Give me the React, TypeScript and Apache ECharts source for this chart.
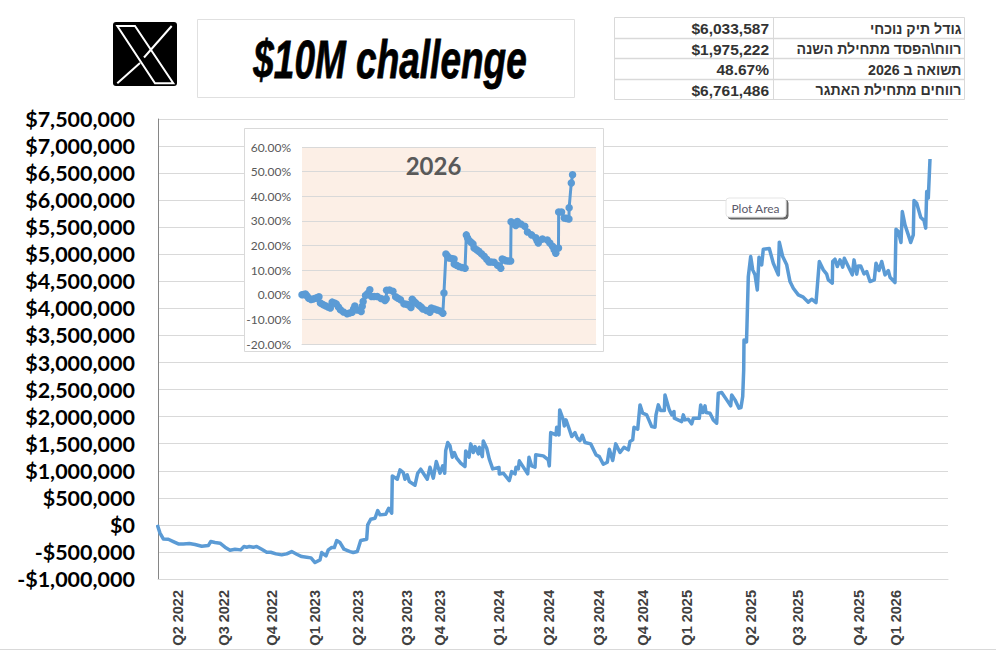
import React, { useEffect, useRef } from "react";
import * as echarts from "echarts";

// Main chart: [session position along the axis, account P&L in $ thousands]
const equity2022: number[][] = [[-0.7,0],[2,-153],[5.3,-259],[10.3,-265],[15.3,-308],[20.3,-351],[25.3,-351],[31.3,-345],[37,-363],[43.7,-394],[50.3,-382],[52.7,-308],[57,-326],[62,-339],[67,-412],[72,-468],[77,-450],[82.7,-462],[86,-400],[88.7,-412],[91.3,-400],[95.3,-412],[98.7,-400],[103.7,-450],[108.7,-505],[112.7,-505],[118,-536],[123.7,-554],[128.7,-536],[133.7,-493],[138.7,-542],[143.7,-585],[148.7,-597],[153,-610]];
const equity2023: number[][] = [[157,-696],[162,-647],[163.7,-511],[168,-573],[170.3,-462],[173.7,-419],[176.3,-419],[178.7,-290],[182,-326],[186,-450],[192,-493],[195.3,-511],[199.3,-493],[202.7,-290],[208.7,-265],[209.7,0],[212.7,105],[217,123],[219.7,264],[222,185],[227.7,197],[230.7,308],[233.7,216],[234.3,905],[239.3,844],[242,1016],[245.3,967],[247,844],[249.3,924],[251.3,800],[257,733],[259.7,955],[262.7,1029],[269.3,844],[272,1066],[275.3,863],[278.3,1170],[282,955],[284.7,1090],[286.7,955],[287.7,1373],[289.7,1521],[292,1460],[294.3,1251],[296.3,1337],[298.7,1232],[302.7,1140],[307,1078],[307.7,1367],[311,1251],[312.7,1497],[315.3,1337],[317,1447],[320.3,1312],[321.3,1435],[324.3,1262],[325.3,1552],[328.7,1417],[331.3,1214],[334.7,1035]];
const equity2024: number[][] = [[341,1059],[341.3,942],[345.3,955],[351.3,819],[353.7,985],[357,942],[358,1066],[360.3,1035],[361.3,1183],[366,1048],[369.7,942],[371,1251],[373.7,1090],[377,1066],[377.7,1294],[385.3,1275],[390.3,1201],[391.3,1090],[392.7,1706],[398,1663],[398.7,1805],[401,1663],[401.7,2125],[405.3,1940],[406.3,1829],[408,1940],[411.3,1767],[413.7,1632],[417,1706],[419.3,1602],[422,1558],[424.3,1657],[427,1521],[432.7,1497],[438,1294],[441.3,1262],[445.3,1121],[449.3,1158],[451.3,1399],[454.7,1189],[457.7,1497],[462,1337],[466,1435],[470.3,1386],[472,1539],[474.7,1571],[476,1805],[479.7,1767],[482,2217],[484.7,2064],[488.7,2033],[493.7,1816],[497,1805],[498,2033],[500.3,2217],[502.7,2112],[506.3,2112],[507,2402],[511.3,2125],[513.7,2033],[516,2094],[516.3,1971],[523.7,1909],[525.3,2033],[527,1940],[530.3,1952]];
const equity2025: number[][] = [[533.7,1866],[535.3,1971],[541.3,1971],[542.7,2217],[544.7,2075],[547,2199],[548,2075],[552,2064],[555.3,1940],[558.7,1879],[560.3,2433],[563.7,2445],[568.7,2310],[572.7,2199],[573.7,2402],[577,2310],[581,2156],[583,2168],[584.7,2371],[585.7,2864],[586,3418],[588.5,3380],[589,3700],[590.3,4588],[592.7,4958],[594.7,4712],[597,4620],[599.3,4342],[601,4946],[603.7,4805],[605.3,5094],[611.3,5106],[615.3,4835],[620.3,4620],[621.3,5224],[624.7,4958],[628.7,4805],[632,4496],[635.3,4374],[640.3,4250],[645.3,4207],[650.3,4115],[653.7,4170],[658,4108],[659.7,4496],[661.3,4866],[665.3,4712],[668.7,4633],[670.3,4527],[674.3,4466],[674.7,4866],[677,4910],[679.3,4774],[682,4897],[684.7,4762],[686.3,4928],[690.3,4774],[694.3,4620],[696,4897],[698.7,4633],[700.3,4786],[702.7,4786],[706,4639],[708.7,4682],[712,4496],[716.3,4527],[718,4835],[721,4700],[723.7,4866],[727,4620],[730.3,4700],[732,4577]];
const equity2026: number[][] = [[737,4478],[738,5464],[740.3,5421],[743,5217],[744.3,5790],[747,5544],[750.3,5359],[752.7,5217],[755.3,5359],[756,5993],[758.7,5944],[762.7,5686],[766,5624],[767.7,5483],[768.7,6159],[770.3,6037],[772,6761]];

const quarterLabels = ["Q2 2022","Q3 2022","Q4 2022","Q1 2023","Q2 2023","Q3 2023","Q4 2023","Q1 2024","Q2 2024","Q3 2024","Q4 2024","Q1 2025","Q2 2025","Q3 2025","Q4 2025","Q1 2026"];
const quarterSessions = [19.7,66,113.7,157,199.7,248.7,282,341.3,391.3,441.3,485.3,528.7,593,640,701,738];

// Inset: 2026 return by day of the year, percent
const ytdDays = [0,1,1.9,2.8,3.7,5,6.2,7.4,8.4,9.4,10.2,11.6,13,14.4,15.7,16.7,18,19,20.2,21.3,23,25,26.4,27.8,28.6,29.3,30.6,32.8,33.4,33.9,35.2,36.4,37.6,38.5,40,41.7,43.8,46,46.7,46.9,48.5,50.4,51.9,53.2,54.6,56.5,58,58.9,60.4,61.1,62,63,64.8,66,67,69,70.9,71.7,73.4,75,76.6,78.1,78.7,79.8,80.6,81.5,83,84.3,84.4,85.7,87,88.7,90.4,91.1,91.8,92.6,93.7,94.8,95.4,96.8,98.1,99.5,101,102.4,103.7,105,106.5,108.4,110.2,111,112,113,114.4,115.7,115.9,117.2,118.5,119.4,121.3,123.5,125,127.3,129.6,130.3,131,133.3,136,137.4,138.9,139.8,140.7,142.2,142.3,143.9,145.4,146.7,148,148.1,149.3,150];
const ytdReturn = [0,0.1,0.3,-0.5,-1.4,-1.9,-1.7,-1.4,-1.2,-0.8,-3.4,-4,-4.5,-5,-5.4,-3,-3.4,-3.8,-5,-6.1,-7,-7.7,-7.4,-7.1,-5.8,-4.6,-6.2,-6.8,-4.7,-2.7,-0.3,0.5,2,-0.7,-0.7,-0.7,-1.5,-2.3,-1.6,1.8,1.9,1.4,-0.8,-1.4,-2,-3.7,-3.9,-4.1,-5.2,-1.8,-2.6,-3.4,-4.3,-5,-5.8,-6.4,-7.1,-5.4,-5.8,-6.2,-6.6,-7.5,0.7,16.5,15.7,14.9,14.7,14.5,12.5,12,11.5,11.1,10.8,24.3,23,22,21.3,20.6,19,18.3,17.6,16.6,15.6,14.4,13.3,13.3,13.2,12,10.8,14.5,14.2,13.8,13.7,13.7,29.6,28.8,28.1,29.7,28.7,27.8,25.5,24.3,23.1,22,21,22.6,22.2,21,19.7,18.3,16.9,19,33.6,33.6,31.2,31,30.8,35.3,45.4,48.7];

// Summary table
const tableValues = ["$6,033,587","$1,975,222","48.67%","$6,761,486"];
const tableLabels = ["גודל תיק נוכחי","רווח\\הפסד מתחילת השנה","תשואה ב 2026","רווחים מתחילת האתגר"];

const BLUE = "#5B9BD5";
const GRID = "#D9D9D9";

export default function App() {
  const ref = useRef<HTMLDivElement>(null);
  useEffect(() => {
    const chart = echarts.init(ref.current!, null, { renderer: "svg" });
    const rowY = [17, 38, 58, 79, 99];
    const equityPoints = [...equity2022, ...equity2023, ...equity2024, ...equity2025, ...equity2026];
    const tableGraphics: any[] = [
      { type: "rect", z: 1, shape: { x: 614.5, y: 17.5, width: 350, height: 82 }, style: { fill: "#fff", stroke: GRID, lineWidth: 1 } },
      { type: "line", z: 1, shape: { x1: 773.5, y1: 17, x2: 773.5, y2: 99 }, style: { stroke: GRID, lineWidth: 1 } },
      ...rowY.slice(1, 4).map((y) => ({ type: "line", z: 1, shape: { x1: 614, y1: y + 0.5, x2: 964, y2: y + 0.5 }, style: { stroke: GRID, lineWidth: 1.5 } })),
      ...tableValues.map((t, i) => ({ type: "text", z: 2, style: { text: t, x: 769, y: (rowY[i] + rowY[i + 1]) / 2 + 1, textAlign: "right", textVerticalAlign: "middle", fill: "#333", font: 'bold 15.5px "Liberation Sans"' } })),
      ...tableLabels.map((t, i) => ({ type: "text", z: 2, style: { text: t, x: 961.5, y: (rowY[i] + rowY[i + 1]) / 2 + 1, textAlign: "right", textVerticalAlign: "middle", fill: "#333", font: 'bold 14.2px "Liberation Sans"' } })),
    ];
    chart.setOption({
      animation: false,
      backgroundColor: "#fff",
      grid: [
        { left: 158, top: 119, width: 790, height: 460, z: 0, containLabel: false },
        { left: 302, top: 147, width: 294, height: 197, z: 2, show: true, backgroundColor: "#FCEFE6", borderWidth: 0 },
      ],
      xAxis: [
        {
          type: "value", gridIndex: 0, min: 0, max: 790, z: 0,
          splitLine: { show: false },
          axisLine: { show: true, onZero: false, lineStyle: { color: GRID, width: 1 } },
          axisTick: { show: false },
          axisLabel: {
            customValues: quarterSessions, rotate: 90, margin: 11,
            color: "#404040", fontFamily: '"Liberation Sans"', fontWeight: "bold", fontSize: 14.5,
            formatter: (v: number) => quarterLabels[quarterSessions.indexOf(v)] ?? "",
          },
        },
        {
          type: "value", gridIndex: 1, min: 0, max: 163, z: 3,
          splitLine: { show: false }, axisLabel: { show: false }, axisTick: { show: false },
          axisLine: { show: true, onZero: false, lineStyle: { color: GRID } },
        },
      ],
      yAxis: [
        {
          type: "value", gridIndex: 0, min: -1000000, max: 7500000, interval: 500000, z: 0,
          axisLine: { show: true, onZero: false, lineStyle: { color: "#868686", width: 1 } },
          axisTick: { show: false },
          splitLine: { show: true, lineStyle: { color: GRID, width: 1 } },
          axisLabel: {
            margin: 23, color: "#000", fontFamily: "Lato", fontWeight: "bold", fontSize: 21.5,
            formatter: (v: number) => (v < 0 ? "-$" : "$") + Math.abs(v).toLocaleString("en-US"),
          },
        },
        {
          type: "value", gridIndex: 1, min: -20, max: 60, interval: 10, z: 3,
          axisLine: { show: false }, axisTick: { show: false },
          splitLine: { show: true, lineStyle: { color: GRID, width: 1 } },
          axisLabel: { margin: 11, color: "#595959", fontFamily: "Lato", fontSize: 12, formatter: (v: number) => v.toFixed(2) + "%" },
        },
      ],
      series: [
        {
          type: "line", xAxisIndex: 0, yAxisIndex: 0, z: 1, showSymbol: false, symbol: "none",
          lineStyle: { color: BLUE, width: 3.5, join: "round" },
          data: equityPoints.map(([s, v]) => [s, v * 1000]),
        },
        {
          type: "line", xAxisIndex: 1, yAxisIndex: 1, z: 4, symbol: "circle", symbolSize: 7.5, showSymbol: true, showAllSymbol: true,
          itemStyle: { color: BLUE }, lineStyle: { color: BLUE, width: 3 },
          data: ytdDays.map((d, i) => [d, ytdReturn[i]]),
        },
      ],
      graphic: [
        { type: "line", z: 1, shape: { x1: 0, y1: 649.5, x2: 996, y2: 649.5 }, style: { stroke: GRID, lineWidth: 1 } },
        { type: "rect", z: 1, shape: { x: 244.5, y: 128.5, width: 359, height: 223 }, style: { fill: "#fff", stroke: GRID, lineWidth: 1 } },
        { type: "text", z: 6, style: { text: "2026", x: 433.5, y: 165, textAlign: "center", textVerticalAlign: "middle", fill: "#595959", font: "bold 24px Lato" } },
        { type: "rect", z: 1, shape: { x: 197.5, y: 19.5, width: 377, height: 78 }, style: { fill: "#fff", stroke: "#E0E0E0", lineWidth: 1 } },
        { type: "text", z: 2, x: 390, y: 60, scaleX: 0.925, scaleY: 1.32, style: { text: "$10M challenge", x: 0, y: 0, textAlign: "center", textVerticalAlign: "middle", fill: "#000", stroke: "#000", lineWidth: 0.6, font: 'italic bold 40px "Liberation Sans"' } },
        { type: "rect", z: 1, shape: { x: 113, y: 22, width: 64, height: 64, r: 3 }, style: { fill: "#000" } },
        { type: "polygon", z: 2, shape: { points: [[117.3, 26], [135, 26], [173.3, 83.3], [155, 83.3]] }, style: { fill: "#000", stroke: "#fff", lineWidth: 2 } },
        { type: "line", z: 2, shape: { x1: 171.7, y1: 26, x2: 144, y2: 57.5 }, style: { stroke: "#fff", lineWidth: 2 } },
        { type: "line", z: 2, shape: { x1: 140, y1: 63, x2: 117.3, y2: 83.3 }, style: { stroke: "#fff", lineWidth: 2 } },
        ...tableGraphics,
        { type: "rect", z: 5, shape: { x: 726, y: 198, width: 60, height: 19, r: 3 }, style: { fill: "#fff", stroke: "#E5E5E5", lineWidth: 1, shadowBlur: 1, shadowOffsetX: 2, shadowOffsetY: 2, shadowColor: "#666" } },
        { type: "text", z: 6, style: { text: "Plot Area", x: 755.5, y: 208, textAlign: "center", textVerticalAlign: "middle", fill: "#5A5A6A", font: "12px Lato" } },
      ],
    });
    return () => chart.dispose();
  }, []);
  return <div ref={ref} style={{ position: "absolute", left: 0, top: 0, width: 996, height: 650, background: "#fff" }} />;
}
